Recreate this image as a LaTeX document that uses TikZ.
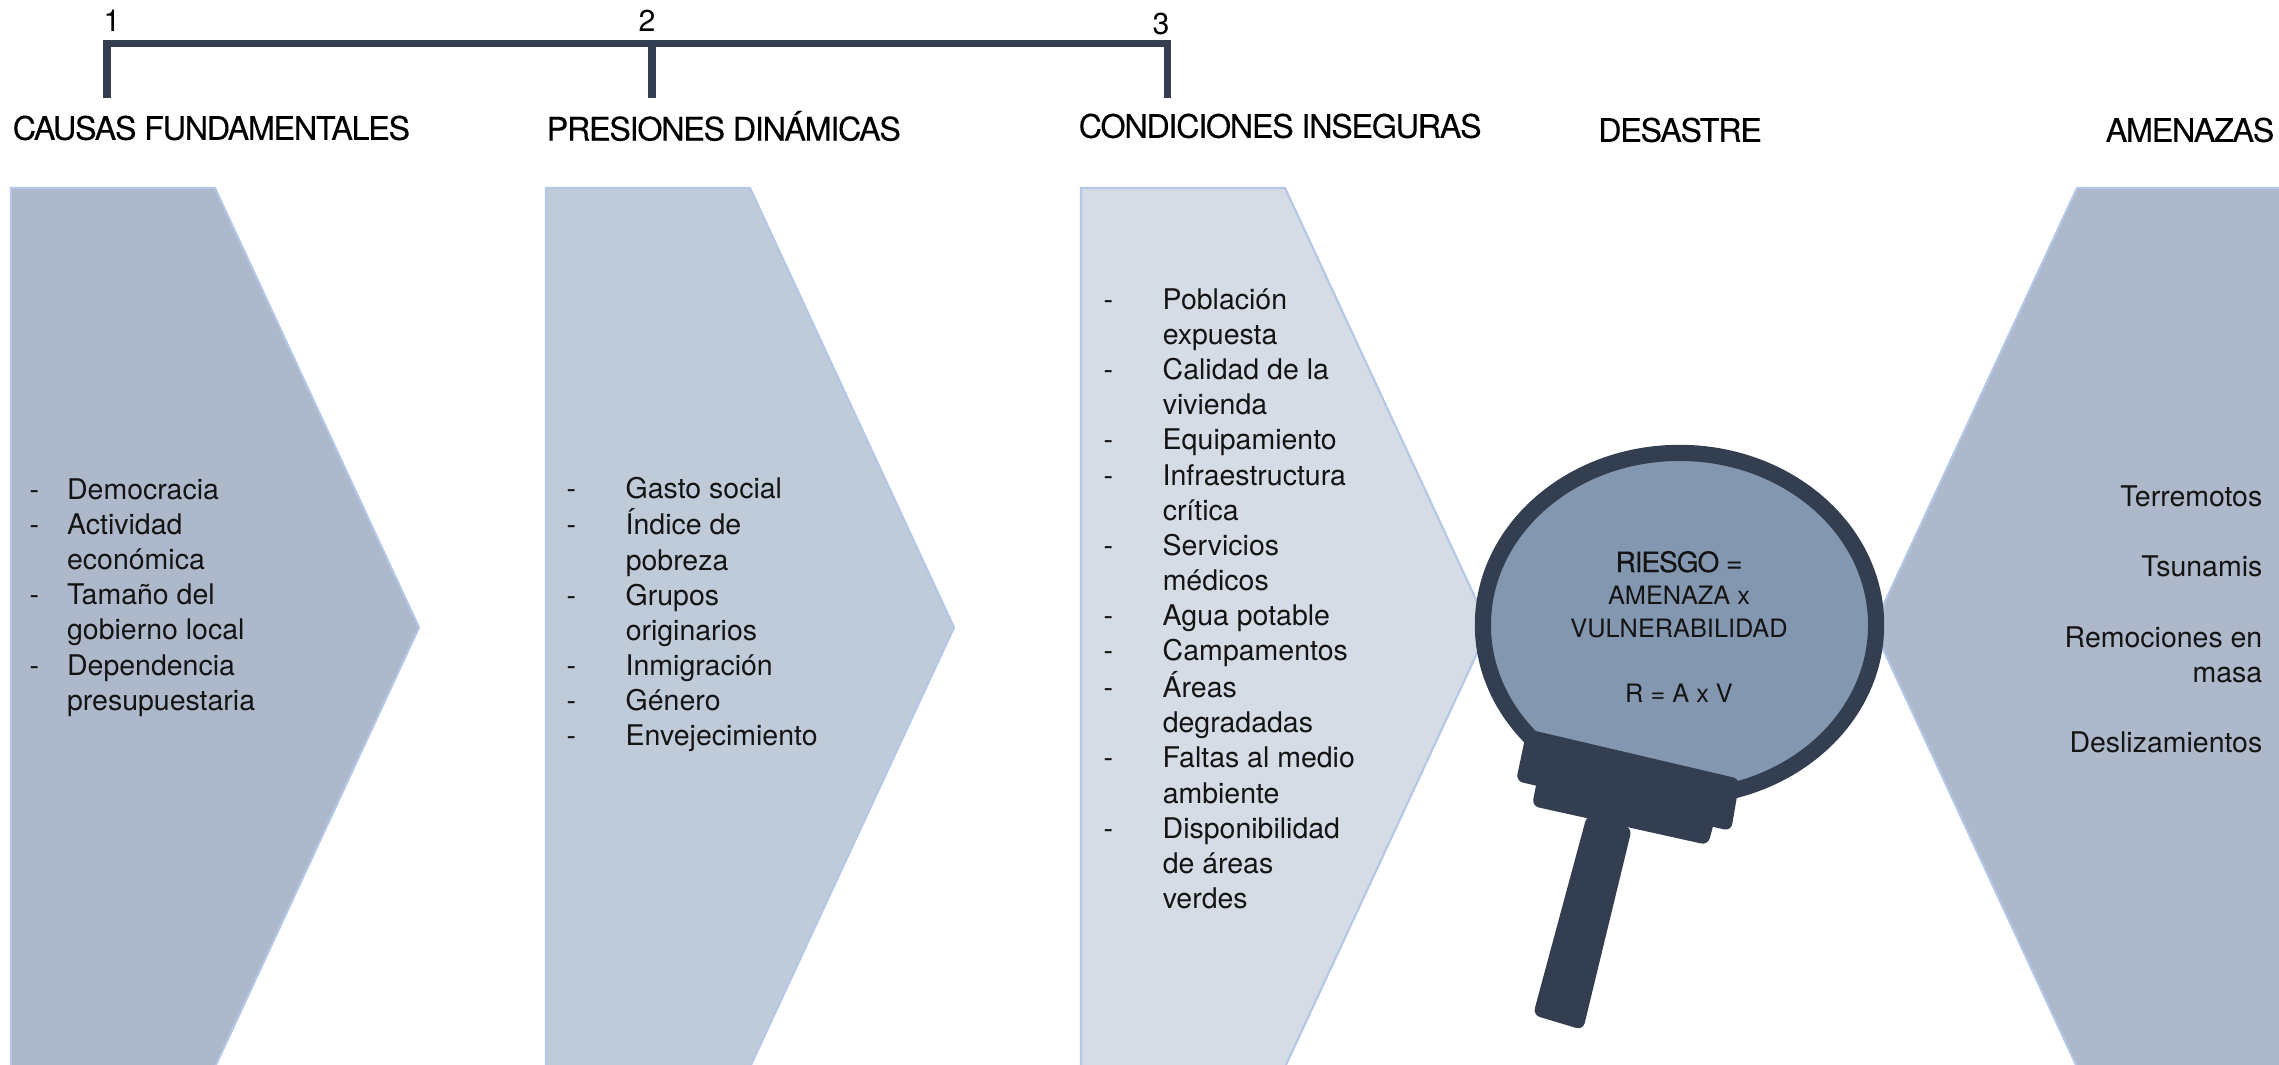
\documentclass[tikz,border=0pt]{standalone}
\usepackage{fontspec}
\setmainfont{TeX Gyre Heros}
\newfontfamily\titlefont[LetterSpace=-4,FakeBold=0.15]{TeX Gyre Heros}
\usepackage{xcolor}
\usetikzlibrary{shapes.geometric,positioning}
\definecolor{darkslate}{HTML}{333F50}
\definecolor{lensblue}{HTML}{8497B0}
\definecolor{edgeblue}{HTML}{B4C7E7}
\definecolor{fillone}{HTML}{ADB9CA}
\definecolor{filltwo}{HTML}{C0CBDA}
\definecolor{fillthree}{HTML}{D5DCE5}
\tikzset{
    chevron/.style={draw=edgeblue, line width=0.6pt},
    bracket/.style={draw=darkslate, line width=2pt},
    title/.style={inner sep=0pt, font=\fontsize{9.2}{10}\titlefont},
    number/.style={inner sep=0pt, font=\fontsize{8.6}{9}\selectfont},
    itemlist/.style={inner sep=0pt, anchor=north west, text=black!92, font=\fontsize{8.1}{10}\selectfont},
    grip/.style={fill=darkslate, rounded corners=2pt},
}
\begin{document}
\begin{tikzpicture}[x=0.01cm, y=-0.01cm]
\useasboundingbox (0,0) rectangle (2279,1065);
\begin{scope}
\clip (0,0) rectangle (2279,1065);
\draw[chevron, fill=fillone] (11,188) -- (215,188) -- (419,627.5) -- (215,1067) -- (11,1067) -- cycle;
\draw[chevron, fill=filltwo] (546,188) -- (750,188) -- (954,627.5) -- (750,1067) -- (546,1067) -- cycle;
\draw[chevron, fill=fillthree] (1081,188) -- (1285,188) -- (1489,627.5) -- (1285,1067) -- (1081,1067) -- cycle;
\draw[chevron, fill=fillone] (2285,188) -- (2077,188) -- (1873,627.5) -- (2077,1067) -- (2285,1067) -- cycle;
\end{scope}
% bracket over the first three columns
\coordinate (b1) at (107,98);
\coordinate (b2) at (652,98);
\coordinate (b3) at (1167,98);
\coordinate (top1) at (107,44);
\coordinate (top2) at (652,44);
\coordinate (top3) at (1167,44);
\draw[bracket] (b1) -- (top1) -- (top3) -- (b3);
\draw[bracket] (top2) -- (b2);
\node[number] (num1) at (112,21) {1};
\node[number] (num2) at (647,21) {2};
\node[number] (num3) at (1161,24) {3};
\node[title, anchor=west] (causas) at (12,128) {CAUSAS FUNDAMENTALES};
\node[title, anchor=west] (presiones) at (546,126) {PRESIONES DINÁMICAS};
\node[title, anchor=west] (condiciones) at (1078,126) {CONDICIONES INSEGURAS};
\node[title] (desastre) at (1680,130) {DESASTRE};
\node[title, anchor=east] (amenazas) at (2275,130) {AMENAZAS};
% lists
\node[itemlist] (list1) at (29,474) {\begin{tabular}{@{}l@{\hspace{0.11in}}l@{}}
- & Democracia\\
- & Actividad\\
  & económica\\
- & Tamaño del\\
  & gobierno local\\
- & Dependencia\\
  & presupuestaria
\end{tabular}};
\node[itemlist] (list2) at (566,473) {\begin{tabular}{@{}l@{\hspace{0.195in}}l@{}}
- & Gasto social\\
- & Índice de\\
  & pobreza\\
- & Grupos\\
  & originarios\\
- & Inmigración\\
- & Género\\
- & Envejecimiento
\end{tabular}};
\node[itemlist] (list3) at (1103,284) {\begin{tabular}{@{}l@{\hspace{0.195in}}l@{}}
- & Población\\
  & expuesta\\
- & Calidad de la\\
  & vivienda\\
- & Equipamiento\\
- & Infraestructura\\
  & crítica\\
- & Servicios\\
  & médicos\\
- & Agua potable\\
- & Campamentos\\
- & Áreas\\
  & degradadas\\
- & Faltas al medio\\
  & ambiente\\
- & Disponibilidad\\
  & de áreas\\
  & verdes
\end{tabular}};
\node[itemlist, anchor=north east, align=right] (list4) at (2263,485) {Terremotos\\[10pt]Tsunamis\\[10pt]Remociones en\\masa\\[10pt]Deslizamientos};
% magnifying glass
\node[ellipse, draw=darkslate, fill=lensblue, line width=4.6pt, minimum width=3.93cm, minimum height=3.44cm,
    inner sep=0pt] (lens) at (1679.5,625) {};
\node[align=center, inner sep=0pt, text=black!92, font=\fontsize{7.2}{9.3}\selectfont] (lenstext) at (1679,627)
    {\fontsize{8}{9.3}\titlefont RIESGO =\\AMENAZA x\\VULNERABILIDAD\\[9.3pt]R = A x V};
\fill[grip] (1587,815) -- (1632,828) -- (1583,1030) -- (1533,1015) -- cycle;
\fill[grip] (1538,775) -- (1716,815) -- (1708,845) -- (1532,806) -- cycle;
\fill[grip] (1527,729) -- (1740,779) -- (1731,831) -- (1516,781) -- cycle;
\end{tikzpicture}
\end{document}
